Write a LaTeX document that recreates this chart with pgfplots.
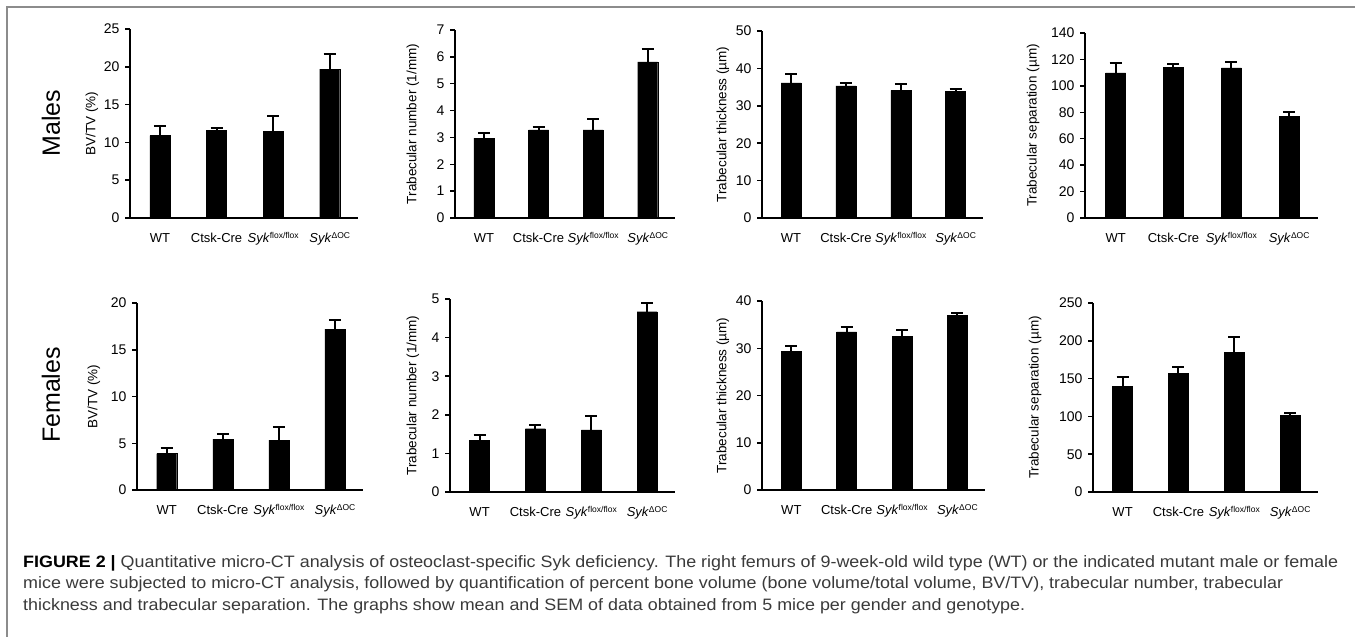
\documentclass[border=0pt]{standalone}
\usepackage{fontspec}
\setmainfont{Liberation Sans}
\usepackage{pgfplots}
\pgfplotsset{compat=1.18}
\usepackage{graphicx}
\newlength\capw
\definecolor{framegray}{HTML}{8C8C8C}
\definecolor{captext}{HTML}{3A3A3A}
\newcommand{\flox}{\textit{Syk}\raisebox{3.5pt}{\fontsize{8.5}{9}\selectfont flox/flox}}
\newcommand{\doc}{\textit{Syk}\raisebox{3.5pt}{\fontsize{8.5}{9}\selectfont ΔOC}}
\newcommand{\capfont}{\fontsize{16.5}{18}\selectfont}
\newcommand{\capA}{\textbf{FIGURE 2 |} Quantitative micro-CT analysis of osteoclast-specific Syk deficiency. The right femurs of 9-week-old wild type (WT) or the indicated mutant male or female}
\pgfplotsset{
  panel/.style={
    scale only axis, ymin=0, xmin=-0.53, xmax=3.5,
    axis x line*=bottom, axis y line*=left,
    axis line style={line width=2.2pt, black},
    xtick={0,1,2,3},
    xticklabels={WT,Ctsk-Cre,\flox,\doc},
    xtick style={draw=none},
    ytick style={line width=1.5pt,black},
    tick align=outside, major tick length=5pt,
    /pgf/number format/assume math mode=true,
    yticklabel style={font=\fontsize{14}{16}\selectfont, xshift=-2pt},
    xticklabel style={font=\fontsize{13}{15}\selectfont, text height=9.5pt, text depth=2.5pt, yshift=-6pt, anchor=north},
    ylabel style={font=\fontsize{13.5}{15}\selectfont},
    clip=false,
  },
  lbl/.style={ylabel style={at={([xshift=-#1]axis description cs:0,0.5)}, anchor=center}},
  barstyle/.style={ybar, bar width=20pt, fill=black, draw=black,
    error bars/.cd, y dir=plus, y explicit,
    error bar style={line width=2pt, black},
    error mark options={rotate=90, line width=2pt, mark size=6pt, black}},
}
\begin{document}
\settowidth\capw{\capfont\capA}%
\pgfmathsetmacro\capsx{1315/\capw}%
\begin{tikzpicture}
\path[use as bounding box] (0,0) rectangle (1355pt,-637pt);
\draw[framegray, line width=1.5pt] (7pt,-637pt) -- (7pt,-7pt) -- (1355pt,-7pt);
\node[rotate=90, font=\fontsize{25}{28}\selectfont] at (51pt,-123pt) {Males};
\node[rotate=90, font=\fontsize{25}{28}\selectfont] at (51pt,-395pt) {Females};

% Males BV/TV
\begin{axis}[panel, lbl=38pt, at={(130pt,-218pt)}, anchor=south west, width=228pt, height=189pt,
  ymax=25, ytick={0,5,...,25}, ylabel={BV/TV (\%)}]
\addplot[barstyle] coordinates {(0,10.9) +- (0,1.3) (1,11.6) +- (0,0.25) (2,11.5) +- (0,1.95) (3,19.7) +- (0,1.95)};
\end{axis}
% Males Tb.N
\begin{axis}[panel, lbl=42pt, at={(455pt,-218pt)}, anchor=south west, width=220pt, height=188pt,
  ymax=7, ytick={0,1,...,7}, ylabel={Trabecular number (1/mm)}]
\addplot[barstyle] coordinates {(0,2.97) +- (0,0.2) (1,3.28) +- (0,0.09) (2,3.28) +- (0,0.42) (3,5.81) +- (0,0.47)};
\end{axis}
% Males Tb.Th
\begin{axis}[panel, lbl=39pt, at={(762pt,-218pt)}, anchor=south west, width=221pt, height=187pt,
  ymax=50, ytick={0,10,...,50}, ylabel={Trabecular thickness (µm)}]
\addplot[barstyle] coordinates {(0,36.1) +- (0,2.4) (1,35.3) +- (0,0.8) (2,34.1) +- (0,1.7) (3,33.9) +- (0,0.7)};
\end{axis}
% Males Tb.Sp
\begin{axis}[panel, lbl=52pt, at={(1085pt,-218pt)}, anchor=south west, width=233pt, height=185pt,
  ymax=140, ytick={0,20,...,140}, ylabel={Trabecular separation (µm)}]
\addplot[barstyle] coordinates {(0,109.8) +- (0,7.4) (1,114.1) +- (0,2.8) (2,113.6) +- (0,4.8) (3,77) +- (0,3)};
\end{axis}

% Females BV/TV
\begin{axis}[panel, lbl=43pt, at={(137pt,-490pt)}, anchor=south west, width=226pt, height=187pt,
  ymax=20, ytick={0,5,...,20}, ylabel={BV/TV (\%)}]
\addplot[barstyle] coordinates {(0,3.9) +- (0,0.55) (1,5.44) +- (0,0.6) (2,5.34) +- (0,1.42) (3,17.2) +- (0,0.95)};
\end{axis}
% Females Tb.N
\begin{axis}[panel, lbl=37pt, at={(450pt,-492pt)}, anchor=south west, width=225pt, height=193pt,
  ymax=5, ytick={0,1,...,5}, ylabel={Trabecular number (1/mm)}]
\addplot[barstyle] coordinates {(0,1.33) +- (0,0.15) (1,1.64) +- (0,0.1) (2,1.61) +- (0,0.35) (3,4.67) +- (0,0.23)};
\end{axis}
% Females Tb.Th
\begin{axis}[panel, lbl=39pt, at={(762pt,-490pt)}, anchor=south west, width=223pt, height=189pt,
  ymax=40, ytick={0,10,...,40}, ylabel={Trabecular thickness (µm)}]
\addplot[barstyle] coordinates {(0,29.4) +- (0,1.0) (1,33.45) +- (0,1.05) (2,32.5) +- (0,1.4) (3,37.0) +- (0,0.5)};
\end{axis}
% Females Tb.Sp
\begin{axis}[panel, lbl=58pt, at={(1093pt,-492pt)}, anchor=south west, width=225pt, height=189pt,
  ymax=250, ytick={0,50,...,250}, ylabel={Trabecular separation (µm)}]
\addplot[barstyle] coordinates {(0,139.8) +- (0,12.2) (1,156.5) +- (0,8.5) (2,185) +- (0,20) (3,101.4) +- (0,3.6)};
\end{axis}

% caption
\node[anchor=base west, inner sep=0pt, text=captext] at (23pt,-567pt) {\scalebox{\capsx}[1]{\capfont\textcolor{black}{\textbf{FIGURE 2 |}} Quantitative micro-CT analysis of osteoclast-specific Syk deficiency. The right femurs of 9-week-old wild type (WT) or the indicated mutant male or female}};
\node[anchor=base west, inner sep=0pt, text=captext] at (23pt,-588.5pt) {\scalebox{\capsx}[1]{\capfont mice were subjected to micro-CT analysis, followed by quantification of percent bone volume (bone volume/total volume, BV/TV), trabecular number, trabecular}};
\node[anchor=base west, inner sep=0pt, text=captext] at (23pt,-610pt) {\scalebox{\capsx}[1]{\capfont thickness and trabecular separation. The graphs show mean and SEM of data obtained from 5 mice per gender and genotype.}};
\end{tikzpicture}
\end{document}
